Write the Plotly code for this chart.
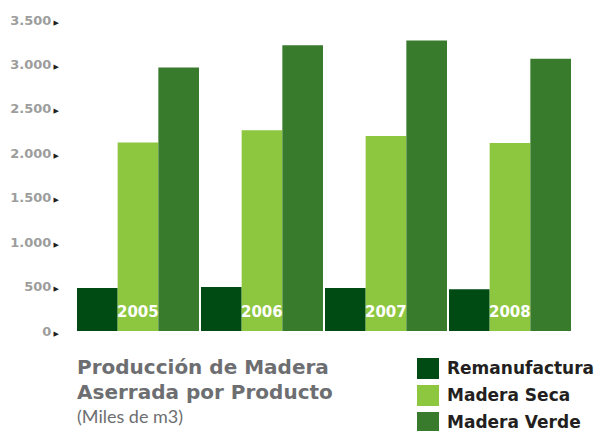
import plotly.graph_objects as go

# data
years = ["2005", "2006", "2007", "2008"]
remanufactura = [485, 495, 485, 470]
madera_seca = [2120, 2260, 2195, 2115]
madera_verde = [2965, 3215, 3270, 3065]
tick_vals = [0, 500, 1000, 1500, 2000, 2500, 3000, 3500]
tick_labels = ["0", "500", "1.000", "1.500", "2.000", "2.500", "3.000", "3.500"]
series_names = ["Remanufactura", "Madera Seca", "Madera Verde"]
colors = ["#004b13", "#8dc63f", "#387b2c"]

W, H = 595, 431
L, R, T, B = 76, 23, 20, 100
plot_h = H - T - B
plot_w = W - L - R
BOLD = "DejaVu Sans"


def py(p):
    # pixel row -> paper y
    return (H - B - p) / plot_h


def px_(p):
    # pixel column -> paper x
    return (p - L) / plot_w


fig = go.Figure()
for name, vals, col in zip(series_names, [remanufactura, madera_seca, madera_verde], colors):
    fig.add_trace(go.Bar(x=years, y=vals, name=name, marker_color=col,
                         marker_line_width=0, showlegend=False))

arrow = "<span style='color:#231f20;font-size:7px'> ▶</span>"
fig.update_layout(
    width=W, height=H,
    margin=dict(l=L, r=R, t=T, b=B),
    barmode="group", bargap=0.016, bargroupgap=0,
    plot_bgcolor="white", paper_bgcolor="white",
    font=dict(family=BOLD, color="#999999"),
    xaxis=dict(type="category", range=[-0.5, len(years) - 0.5], showticklabels=False,
               showgrid=False, zeroline=False, showline=False, automargin=False),
    yaxis=dict(range=[0, 3500], tickvals=tick_vals,
               ticktext=[f"<b>{t}</b>{arrow}" for t in tick_labels],
               tickfont=dict(size=13, color="#9d9d9d", family=BOLD),
               showgrid=False, zeroline=False, showline=False,
               ticklabelstandoff=16, automargin=False),
)

# year labels inside the Madera Seca bars
for i, y in enumerate(years):
    fig.add_annotation(x=i, y=213, xref="x", yref="y", text=f"<b>{y}</b>",
                       showarrow=False, font=dict(size=15, color="white", family=BOLD))

# title block bottom left
title_lines = [("<b>Producción de Madera</b>", 367, 20, BOLD),
               ("<b>Aserrada por Producto</b>", 392, 20, BOLD),
               ("(Miles de m3)", 416, 18, "Lato")]
for txt, p, size, fam in title_lines:
    fig.add_annotation(x=px_(75), y=py(p), xref="paper", yref="paper", text=txt,
                       xanchor="left", yanchor="middle", showarrow=False,
                       font=dict(size=size, color="#6d6e71", family=fam))

# legend drawn by hand
for i, (name, col) in enumerate(zip(series_names, colors)):
    top = 358 + i * 27
    fig.add_shape(type="rect", xref="paper", yref="paper",
                  x0=px_(417), x1=px_(439), y0=py(top + 21), y1=py(top),
                  fillcolor=col, line_width=0)
    fig.add_annotation(x=px_(445), y=py(top + 10), xref="paper", yref="paper",
                       text=f"<b>{name}</b>", xanchor="left", yanchor="middle",
                       showarrow=False, font=dict(size=17, color="#231f20", family=BOLD))

fig.write_html("out.html", config={"displayModeBar": False},
               post_script="document.body.style.margin='0';")
